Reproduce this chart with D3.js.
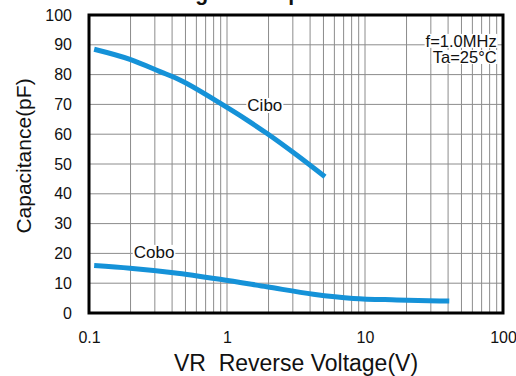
<!DOCTYPE html>
<html>
<head>
<meta charset="utf-8">
<script src="https://cdn.jsdelivr.net/npm/d3@7"></script>
<style>
  body { margin: 0; background: #fff; }
  text { font-family: "Liberation Sans", Arial, sans-serif; fill: #111; }
</style>
</head>
<body>
<div id="chart"></div>
<script>
// Cibo / Cobo vs reverse voltage
var ciboV = [0.109, 0.198, 0.327, 0.456, 0.89, 1.39, 1.94, 3.2, 5.13];
var ciboC = [88.5, 85.1, 81.0, 78.2, 70.4, 64.8, 60.3, 53.0, 45.7];
var coboV = [0.109, 0.198, 0.408, 0.89, 1.94, 4.22, 8.23, 17.0, 40.8];
var coboC = [15.9, 15.0, 13.5, 11.3, 8.8, 6.3, 4.9, 4.4, 4.0];
var xTicks = [0.1, 1, 10, 100];
var xTickLabels = ["0.1", "1", "10", "100"];
var yTicks = [0, 10, 20, 30, 40, 50, 60, 70, 80, 90, 100];
var notes = ["f=1.0MHz", "Ta=25°C"];

var width = 516, height = 376;
var margin = {top: 15, right: 13, bottom: 63, left: 89};
var w = width - margin.left - margin.right,
    h = height - margin.top - margin.bottom;

var svg = d3.select("#chart").append("svg")
    .attr("width", width)
    .attr("height", height);

// title is clipped by the top edge, only descenders of g and p show
svg.append("text")
    .attr("x", 145).attr("y", 0)
    .style("font-size", "21.2px").style("font-weight", "bold")
    .text("Voltage vs. Capacitance");

var g = svg.append("g").attr("transform", "translate(" + margin.left + "," + margin.top + ")");

var x = d3.scaleLog().domain([0.1, 100]).range([0, w]);
var y = d3.scaleLinear().domain([0, 100]).range([h, 0]);

// grid: every minor decade step
var minor = [];
[0.1, 1, 10].forEach(function(d) {
  for (var k = 1; k < 10; k++) minor.push(d * k);
});
g.append("g").selectAll("line.v")
    .data(minor.slice(1))
    .enter().append("line")
    .attr("x1", function(d) { return x(d); }).attr("x2", function(d) { return x(d); })
    .attr("y1", 0).attr("y2", h)
    .attr("stroke", "#8c8c8c").attr("stroke-width", 1);
g.append("g").selectAll("line.h")
    .data(yTicks.slice(1, -1))
    .enter().append("line")
    .attr("x1", 0).attr("x2", w)
    .attr("y1", function(d) { return y(d); }).attr("y2", function(d) { return y(d); })
    .attr("stroke", "#8c8c8c").attr("stroke-width", 1);

// axes labels
var yAxis = g.append("g")
    .call(d3.axisLeft(y).tickValues(yTicks).tickSize(0).tickPadding(17));
var xAxis = g.append("g")
    .attr("transform", "translate(0," + h + ")")
    .call(d3.axisBottom(x).tickValues(xTicks).tickSize(0).tickPadding(19)
      .tickFormat(function(d, i) { return xTickLabels[i]; }));
[yAxis, xAxis].forEach(function(a) {
  a.select(".domain").remove();
  a.selectAll("text").style("font-size", "16px").style("font-family", "Liberation Sans, Arial, sans-serif").attr("fill", "#111");
});

// curves
var line = d3.line()
    .x(function(d) { return x(d[0]); })
    .y(function(d) { return y(d[1]); })
    .curve(d3.curveMonotoneX);

[[ciboV, ciboC], [coboV, coboC]].forEach(function(s) {
  g.append("path")
      .datum(d3.zip(s[0], s[1]))
      .attr("d", line)
      .attr("fill", "none")
      .attr("stroke", "#1592d8")
      .attr("stroke-width", 5)
      .attr("stroke-linecap", "butt");
});

// labels with white boxes
function boxLabel(txt, px, py, anchor, size) {
  var t = g.append("text")
      .attr("x", px).attr("y", py)
      .attr("text-anchor", anchor)
      .style("font-size", size + "px")
      .text(txt);
  var b = t.node().getBBox();
  g.insert("rect", function() { return t.node(); })
      .attr("x", b.x - 1).attr("y", b.y + 2)
      .attr("width", b.width + 2).attr("height", b.height - 4)
      .attr("fill", "#fff");
}
boxLabel("Cibo", x(1.88), y(67.8), "middle", 17);
boxLabel("Cobo", x(0.296), y(18.5), "middle", 17);
boxLabel(notes[0], x(90), y(89.3), "end", 16.5);
boxLabel(notes[1], x(90), y(83.9), "end", 16.5);

// frame
g.append("rect")
    .attr("width", w).attr("height", h)
    .attr("fill", "none").attr("stroke", "#000").attr("stroke-width", 3);

// axis titles
svg.append("text")
    .attr("x", margin.left + w / 2).attr("y", 371)
    .attr("text-anchor", "middle")
    .style("font-size", "23px")
    .style("white-space", "pre")
    .text("VR  Reverse Voltage(V)");
svg.append("text")
    .attr("transform", "translate(31," + 156 + ") rotate(-90)")
    .attr("text-anchor", "middle")
    .style("font-size", "21px")
    .text("Capacitance(pF)");
</script>
</body>
</html>
